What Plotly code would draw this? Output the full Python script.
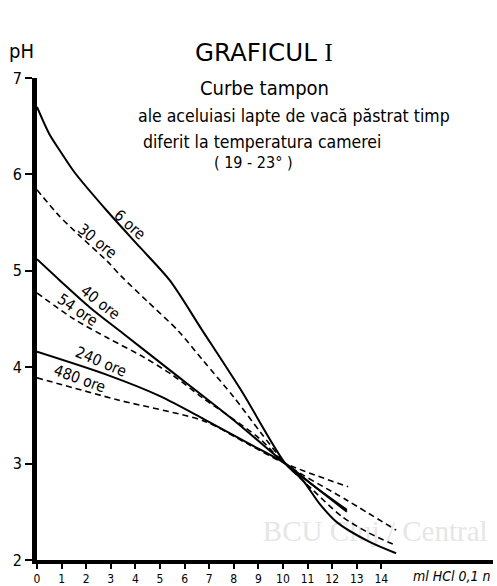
import plotly.graph_objects as go

# Buffer curves: pH of cow milk vs. ml HCl 0,1 n, after different storage times
ml_6 = [0, 0.5, 1.0, 1.5, 2.85, 4.2, 5.4, 6.7, 8.3, 10.1, 10.8, 11.5, 12.2, 13.5, 14.6]
ph_6 = [6.70, 6.42, 6.22, 6.03, 5.62, 5.24, 4.90, 4.39, 3.76, 3.00, 2.83, 2.58, 2.39, 2.19, 2.07]

ml_30 = [0, 0.9, 1.75, 2.85, 3.4, 4.5, 5.73, 6.75, 8.0, 9.1, 10.1, 11.2, 12.4, 13.5, 14.6]
ph_30 = [5.84, 5.57, 5.36, 5.10, 4.95, 4.68, 4.38, 4.07, 3.69, 3.32, 3.00, 2.73, 2.45, 2.28, 2.15]

ml_40 = [0, 0.93, 2.15, 3.5, 5.4, 8.0, 10.1, 11.3, 12.6]
ph_40 = [5.12, 4.90, 4.62, 4.35, 3.97, 3.45, 3.00, 2.76, 2.50]

ml_54 = [0, 1.5, 2.9, 4.3, 5.5, 6.75, 9.0, 10.1, 12.6, 14.6]
ph_54 = [4.77, 4.50, 4.30, 4.11, 3.92, 3.68, 3.27, 3.00, 2.62, 2.31]

ml_240 = [0, 2.85, 5.0, 6.8, 8.6, 10.1, 11.3, 12.6]
ph_240 = [4.16, 3.92, 3.70, 3.46, 3.21, 3.00, 2.76, 2.52]

ml_480 = [0, 3.3, 6.8, 8.6, 10.1, 12.65]
ph_480 = [3.89, 3.66, 3.44, 3.20, 3.00, 2.76]

curve_names = ["6 ore", "30 ore", "40 ore", "54 ore", "240 ore", "480 ore"]
curve_x = [ml_6, ml_30, ml_40, ml_54, ml_240, ml_480]
curve_y = [ph_6, ph_30, ph_40, ph_54, ph_240, ph_480]
curve_dash = ["solid", "6px,4px", "solid", "6px,4px", "solid", "6px,4px"]

# label anchors (ml, pH) and rotation for each curve name
label_x = [3.78, 2.44, 2.6, 1.63, 2.6, 1.75]
label_y = [5.48, 5.31, 4.67, 4.59, 4.05, 3.88]
label_angle = [42, 39, 38, 34, 23, 20]

x_ticks = list(range(0, 15))
y_ticks = [2, 3, 4, 5, 6, 7]

FONT = "DejaVu Sans Condensed, Liberation Sans Narrow, sans-serif"

W, H = 497, 586
L, R, T, B = 37, 4, 78, 26

fig = go.Figure()

# faint library stamp sitting underneath the curves
fig.add_trace(go.Scatter(
    x=[13.75], y=[2.27], mode="text", text=["BCU Cluj / Central"],
    textfont=dict(family="Liberation Serif, serif", size=29, color="#e6e6e6"),
    hoverinfo="skip", showlegend=False))

for xs, ys, dash in zip(curve_x, curve_y, curve_dash):
    fig.add_trace(go.Scatter(
        x=xs, y=ys, mode="lines",
        line=dict(color="black", width=2 if dash == "solid" else 1.6,
                  dash=dash, shape="spline", smoothing=0.8),
        hoverinfo="skip", showlegend=False))

annotations = []
for name, lx, ly, ang in zip(curve_names, label_x, label_y, label_angle):
    annotations.append(dict(
        x=lx, y=ly, xref="x", yref="y", text=name, showarrow=False,
        textangle=ang, font=dict(family=FONT, size=15.5, color="black")))


def paper(px, py):
    return (px - L) / (W - L - R), (H - B - py) / (H - T - B)


def note(px, py, text, size, family=FONT):
    xp, yp = paper(px, py)
    annotations.append(dict(
        x=xp, y=yp, xref="paper", yref="paper", text=text, showarrow=False,
        xanchor="center", yanchor="middle",
        font=dict(family=family, size=size, color="black")))


note(21, 51, "pH", 20)
note(264, 53, "GRAFICUL <span style='font-family:Liberation Serif'>I</span>", 24.5,
     family="DejaVu Sans, sans-serif")
note(264, 88, "Curbe tampon", 20)
note(294, 116, "ale aceluiasi lapte de vacă păstrat timp", 17.5)
note(262, 142, "diferit la temperatura camerei", 17.5)
note(253, 162, "( 19 - 23° )", 16)
note(452, 576, "<i>ml HCl 0,1 n</i>", 14)

fig.update_layout(
    width=W, height=H,
    margin=dict(l=L, r=R, t=T, b=B, pad=0, autoexpand=False),
    paper_bgcolor="white", plot_bgcolor="white",
    annotations=annotations,
    xaxis=dict(
        range=[0, 18.54], tickvals=x_ticks, ticktext=[str(v) for v in x_ticks],
        showgrid=False, zeroline=False, showline=True, linecolor="black",
        linewidth=4, ticks="outside", ticklen=5, tickwidth=1.5, tickcolor="black",
        tickfont=dict(family=FONT, size=12, color="black")),
    yaxis=dict(
        range=[2, 7], tickvals=y_ticks, ticktext=[str(v) for v in y_ticks],
        showgrid=False, zeroline=False, showline=True, linecolor="black",
        linewidth=5, ticks="outside", ticklen=7, tickwidth=1.5, tickcolor="black",
        tickfont=dict(family=FONT, size=16, color="black")),
)

fig.write_html("out.html")
